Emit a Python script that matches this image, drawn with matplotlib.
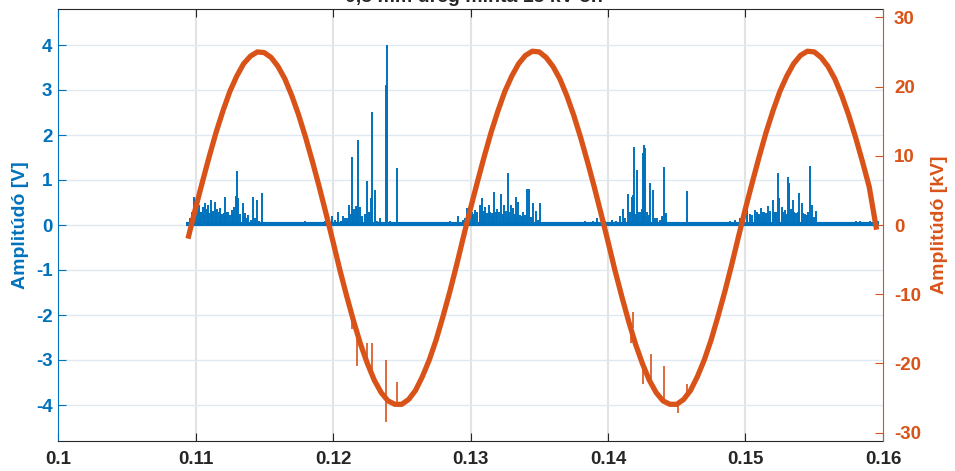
import numpy as np
import matplotlib
matplotlib.use('Agg')
import matplotlib.pyplot as plt

plt.rcParams['font.family'] = ['Liberation Sans', 'DejaVu Sans']
plt.rcParams['font.weight'] = 'bold'
plt.rcParams['axes.unicode_minus'] = False

kek = '#0072BD'
narancs = '#D95319'

cim = '0,5 mm üreg minta 15 kV-on'

# tapfeszultseg [kV], 0.5 ms-onkent 0.1095 s-tol
t0 = 0.1095
dt = 0.0005
feszultseg = [
    -1.6, 2.4, 6.2, 9.9, 13.4, 16.5, 19.3, 21.5, 23.3, 24.4, 25.0, 24.9, 24.2, 22.9, 21.1, 18.7,
    15.9, 12.7, 9.2, 5.5, 1.6, -2.4, -6.5, -10.3, -13.9, -17.2, -20.0, -22.4, -24.2, -25.4, -25.9,
    -25.9, -25.2, -23.9, -21.9, -19.5, -16.6, -13.2, -9.6, -5.7, -1.6,
    2.4, 6.2, 9.9, 13.4, 16.5, 19.3, 21.5, 23.3, 24.5, 25.1, 25.0, 24.2, 22.9, 21.1, 18.7,
    15.9, 12.7, 9.2, 5.5, 1.6, -2.4, -6.5, -10.3, -13.9, -17.2, -20.0, -22.4, -24.2, -25.4, -25.9,
    -25.9, -25.2, -23.9, -21.9, -19.5, -16.6, -13.2, -9.6, -5.7, -1.6,
    2.4, 6.2, 9.9, 13.4, 16.5, 19.3, 21.5, 23.3, 24.5, 25.1, 25.0, 24.2, 22.9, 21.1, 18.7,
    15.9, 12.7, 9.2, 5.5, -0.3,
]

# zavarcsucsok a feszultsegjelen: ido, also, felso [kV]
fesz_tuske_t = [0.12136, 0.12177, 0.12245, 0.12281, 0.12385, 0.12464,
                0.14167, 0.14184, 0.14257, 0.14311, 0.14407, 0.14511, 0.14572]
fesz_tuske_al = [-15.0, -20.3, -19.3, -21.0, -28.5, -25.9,
                 -17.0, -14.9, -23.0, -22.7, -25.5, -27.2, -25.0]
fesz_tuske_fel = [-13.0, -14.9, -17.1, -17.1, -19.5, -22.7,
                  -14.3, -12.6, -20.2, -18.6, -20.3, -25.8, -23.0]

# reszkisulesi impulzusok: ido [s], amplitudo [V]
rk_t = [
    0.10960, 0.10991, 0.11011, 0.11025, 0.11040, 0.11055, 0.11069, 0.11091, 0.11111, 0.11120,
    0.11142, 0.11156, 0.11178, 0.11193, 0.11215, 0.11236, 0.11263, 0.11280, 0.11295, 0.11300,
    0.11311, 0.11343, 0.11360, 0.11384, 0.11416, 0.11445, 0.11481,
    0.10975, 0.11003, 0.11033, 0.11062, 0.11080, 0.11100, 0.11130, 0.11150, 0.11168, 0.11185,
    0.11205, 0.11225, 0.11250, 0.11272, 0.11325, 0.11352, 0.11372, 0.11400, 0.11430, 0.11462,
    0.11796, 0.11869, 0.11942, 0.11991, 0.12036, 0.12073, 0.12102, 0.12116, 0.12136, 0.12153,
    0.12167, 0.12184, 0.12196, 0.12245, 0.12262, 0.12276, 0.12286, 0.12305, 0.12342, 0.12385,
    0.12395, 0.12415, 0.12464, 0.12524, 0.12705,
    0.12015, 0.12055, 0.12090, 0.12125, 0.12145, 0.12175, 0.12210, 0.12230, 0.12255, 0.12320,
    0.12815, 0.12851, 0.12911, 0.12945, 0.12977, 0.13009, 0.13033, 0.13069, 0.13086, 0.13105,
    0.13137, 0.13154, 0.13173, 0.13191, 0.13220, 0.13246, 0.13271, 0.13292, 0.13307, 0.13331,
    0.13348, 0.13360, 0.13384, 0.13413, 0.13428, 0.13457, 0.13476, 0.13503, 0.13709, 0.13833,
    0.12960, 0.12995, 0.13020, 0.13050, 0.13080, 0.13095, 0.13120, 0.13145, 0.13165, 0.13182,
    0.13205, 0.13235, 0.13258, 0.13282, 0.13320, 0.13372, 0.13398, 0.13440, 0.13490,
    0.13891, 0.13918, 0.13978, 0.14029, 0.14087, 0.14107, 0.14143, 0.14172, 0.14184, 0.14191,
    0.14213, 0.14220, 0.14245, 0.14252, 0.14260, 0.14271, 0.14284, 0.14308, 0.14325, 0.14359,
    0.14391, 0.14409, 0.14420, 0.14487, 0.14572, 0.14815,
    0.14060, 0.14120, 0.14160, 0.14200, 0.14235, 0.14295, 0.14340, 0.14375,
    0.14851, 0.14887, 0.14924, 0.14960, 0.15013, 0.15033, 0.15069, 0.15091, 0.15111, 0.15135,
    0.15166, 0.15198, 0.15215, 0.15235, 0.15246, 0.15263, 0.15287, 0.15307, 0.15319, 0.15343,
    0.15367, 0.15391, 0.15408, 0.15433, 0.15457, 0.15469, 0.15481, 0.15516, 0.15760, 0.15833,
    0.15905, 0.15964,
    0.14990, 0.15050, 0.15080, 0.15100, 0.15125, 0.15150, 0.15180, 0.15225, 0.15275, 0.15297,
    0.15330, 0.15355, 0.15380, 0.15420, 0.15445, 0.15495, 0.15700, 0.15800, 0.15870, 0.15940,
]
rk_amp = [
    0.15, 0.63, 0.35, 0.45, 0.30, 0.40, 0.48, 0.44, 0.55, 0.30,
    0.52, 0.35, 0.37, 0.25, 0.63, 0.28, 0.33, 0.40, 0.64, 1.19,
    0.59, 0.48, 0.26, 0.22, 0.63, 0.56, 0.72,
    0.30, 0.25, 0.28, 0.22, 0.35, 0.26, 0.32, 0.24, 0.30, 0.20,
    0.27, 0.30, 0.22, 0.26, 0.25, 0.18, 0.15, 0.12, 0.15, 0.10,
    0.08, 0.06, 0.10, 0.20, 0.30, 0.20, 0.15, 0.44, 1.52, 0.35,
    0.42, 1.89, 0.40, 0.98, 0.30, 0.60, 2.52, 0.78, 0.15, 3.11,
    4.00, 0.10, 1.26, 0.06, 0.05,
    0.12, 0.10, 0.15, 0.25, 0.30, 0.35, 0.20, 0.25, 0.18, 0.10,
    0.05, 0.10, 0.19, 0.12, 0.37, 0.30, 0.33, 0.44, 0.59, 0.41,
    0.44, 0.26, 0.74, 0.35, 0.69, 0.44, 1.16, 0.44, 0.37, 0.63,
    0.52, 0.22, 0.30, 0.79, 0.79, 0.48, 0.32, 0.48, 0.03, 0.08,
    0.15, 0.22, 0.25, 0.30, 0.28, 0.32, 0.27, 0.30, 0.22, 0.28,
    0.30, 0.25, 0.32, 0.28, 0.25, 0.20, 0.22, 0.18, 0.12,
    0.10, 0.15, 0.10, 0.12, 0.20, 0.35, 0.68, 0.63, 0.67, 1.73,
    1.22, 0.30, 0.36, 1.59, 1.78, 1.72, 0.30, 0.94, 0.78, 0.16,
    0.19, 1.30, 0.27, 0.05, 0.76, 0.05,
    0.10, 0.15, 0.30, 0.25, 0.28, 0.22, 0.15, 0.12,
    0.06, 0.10, 0.12, 0.15, 0.63, 0.25, 0.33, 0.20, 0.37, 0.28,
    0.42, 0.56, 0.30, 1.16, 0.61, 0.39, 0.33, 1.06, 0.94, 0.56,
    0.27, 0.72, 0.48, 0.25, 0.30, 1.31, 0.44, 0.32, 0.05, 0.08,
    0.10, 0.08,
    0.20, 0.22, 0.28, 0.25, 0.30, 0.26, 0.32, 0.28, 0.30, 0.25,
    0.35, 0.28, 0.30, 0.26, 0.22, 0.18, 0.06, 0.08, 0.07, 0.09,
]
rk_kezd = 0.1093
rk_veg = 0.1595

fig = plt.figure(figsize=(9.55, 4.71), dpi=100)
ax = fig.add_axes([58/955, 30/471, 825/955, 432/471])
ax2 = ax.twinx()

# kek: reszkisules
ax.hlines(0.03, rk_kezd, rk_veg, color=kek, lw=3.0, zorder=3)
ax.vlines(rk_t, 0, rk_amp, color=kek, lw=1.4, zorder=3)

# narancs: feszultseg
ido = t0 + dt * np.arange(len(feszultseg))
ax2.plot(ido, feszultseg, color=narancs, lw=3.8, solid_joinstyle='round')
ax2.vlines(fesz_tuske_t, fesz_tuske_al, fesz_tuske_fel, color=narancs, lw=1.2)

ax.set_xlim(0.1, 0.16)
ax.set_ylim(-4.8, 4.8)
ax2.set_ylim(-31.2, 31.2)
ax.set_xticks(np.arange(0.1, 0.1601, 0.01))
ax.set_xticklabels(['0.1', '0.11', '0.12', '0.13', '0.14', '0.15', '0.16'])
ax.set_yticks(np.arange(-4, 5, 1))
ax2.set_yticks(np.arange(-30, 31, 10))

ax.grid(False)
for xv in np.arange(0.11, 0.155, 0.01):
    ax.axvline(xv, color='#e3e3e3', lw=1.5, zorder=0)
for yv in np.arange(-4, 5, 1):
    ax.axhline(yv, color='#dfe9f3', lw=1.0, zorder=0)

ax.tick_params(axis='x', direction='in', length=6, top=True, colors='#262626',
               labelsize=13.5, pad=7)
ax.tick_params(axis='y', direction='in', length=6, colors=kek, labelsize=13.5, pad=4)
ax2.tick_params(axis='y', direction='in', length=6, colors=narancs, labelsize=13.5, pad=8)
for lab in ax.get_xticklabels() + ax.get_yticklabels() + ax2.get_yticklabels():
    lab.set_fontweight('bold')

ax.spines['left'].set_color(kek)
ax.spines['right'].set_visible(False)
ax.spines['top'].set_color('#262626')
ax.spines['bottom'].set_color('#262626')
ax2.spines['right'].set_color(narancs)
ax2.spines['left'].set_visible(False)
ax2.spines['top'].set_visible(False)
ax2.spines['bottom'].set_visible(False)

ax.set_ylabel('Amplitúdó [V]', color=kek, fontsize=14, fontweight='bold', labelpad=5)
ax2.set_ylabel('Amplitúdó [kV]', color=narancs, fontsize=14, fontweight='bold', labelpad=7)

fig.text(474/955, 1 - 2/471, cim, ha='center', va='baseline', fontsize=14,
         fontweight='bold', color='#262626')

fig.savefig('out.png', dpi=100)
